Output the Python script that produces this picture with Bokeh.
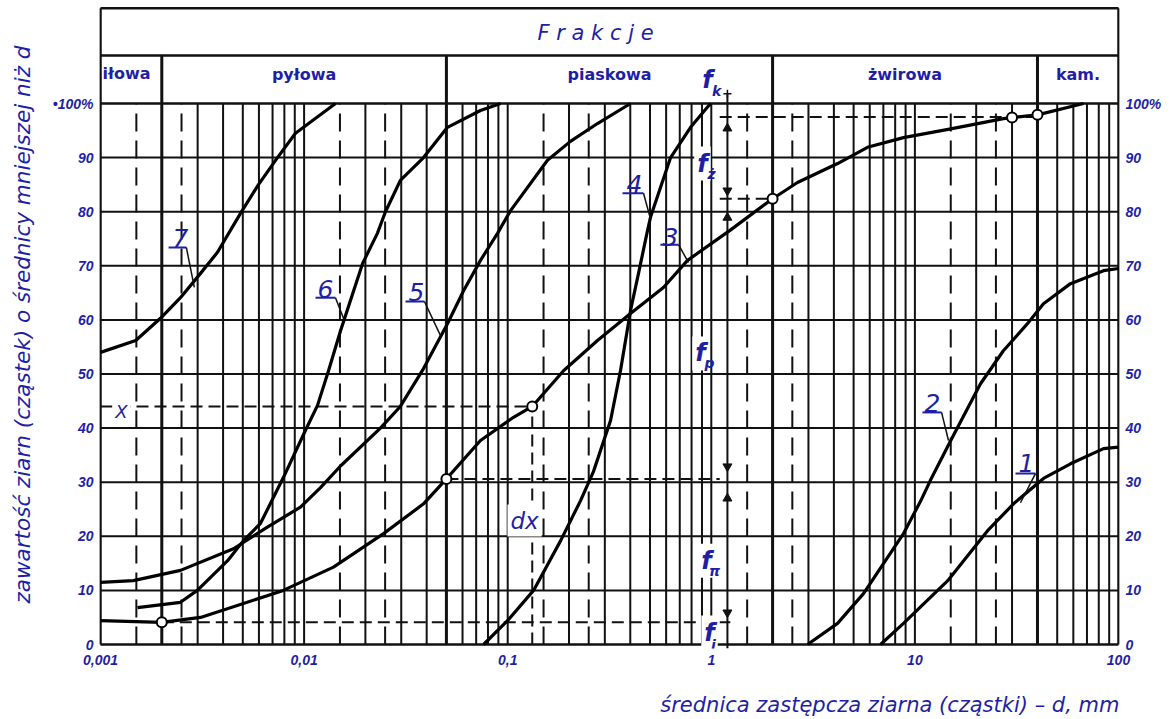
import math
from bokeh.plotting import figure
from bokeh.models import Range1d, FixedTicker, LinearAxis, Label
from bokeh.embed import file_html
from bokeh.resources import INLINE

# ---------------- data ----------------
curve1_d = [6.78, 8.79, 14.5, 22.7, 30.5, 42.8, 58.1, 84.4, 100]
curve1_p = [0, 3.9, 11.8, 21, 26, 30.7, 33.4, 36.2, 36.5]

curve2_d = [2.97, 4.17, 5.59, 7.02, 8.79, 10.7, 11.9, 15.0, 21.0, 27.2, 35.7, 42.8, 58.1, 84.4, 100]
curve2_p = [0, 3.9, 9.4, 15, 20.5, 26.6, 30.3, 37.7, 48.2, 54.3, 59.3, 63, 66.7, 69.1, 69.5]

curve3_d = [0.001, 0.002, 0.0031, 0.0079, 0.01394, 0.02455, 0.0386, 0.05, 0.0735, 0.1068, 0.132,
            0.188, 0.276, 0.401, 0.582, 0.764, 1.24, 1.51, 2.0, 2.65, 4.17, 5.85, 8.79, 15.0, 27.2,
            30, 40, 67.3]
curve3_p = [4.4, 4.1, 5, 10, 14.3, 20.5, 26, 30.6, 37.7, 42, 44,
            50.6, 56.2, 61.2, 66, 71, 76.6, 79.0, 82.4, 85.4, 88.9, 91.9, 93.7, 95.3, 97.2,
            97.4, 97.9, 100]

curve4_d = [0.0761, 0.0998, 0.134, 0.182, 0.228, 0.264, 0.320, 0.358, 0.401, 0.439, 0.486, 0.503,
            0.631, 0.791, 0.991]
curve4_p = [0, 4.4, 10, 19.2, 26.6, 32, 41.4, 50.6, 61.7, 68.6, 76.5, 79, 90, 95.6, 100]

curve5_d = [0.001, 0.00145, 0.00247, 0.0045, 0.0066, 0.0096, 0.01204, 0.0151, 0.0237, 0.0297,
            0.0386, 0.0506, 0.0607, 0.0735, 0.0891, 0.1033, 0.1568, 0.2033, 0.276, 0.401]
curve5_p = [11.5, 11.8, 13.7, 17.7, 21.7, 25.4, 29, 33, 40, 44,
            51, 59.3, 65.4, 71, 76, 80.2, 89.5, 93, 96.3, 100]

curve6_d = [0.00152, 0.00247, 0.00299, 0.00421, 0.00504, 0.00611, 0.00792, 0.01016, 0.01164,
            0.01318, 0.0151, 0.01936, 0.0229, 0.0251, 0.0297, 0.0386, 0.0506, 0.0735, 0.0922]
curve6_p = [6.8, 7.8, 10, 15.5, 19.2, 22.4, 30.9, 39.6, 44.2,
            50.6, 58, 70.4, 76, 80, 85.8, 90, 95.6, 98.7, 100]

curve7_d = [0.001, 0.00149, 0.00197, 0.00247, 0.0031, 0.003755, 0.00487, 0.00597, 0.0074, 0.00907, 0.01426]
curve7_p = [54, 56.2, 60.3, 64.1, 68.6, 72.5, 79.7, 85, 90, 94.5, 100]

# marked points on curve 3
marked_d = [0.002, 0.05, 0.132, 2.0, 30, 40]
marked_p = [4.1, 30.6, 44, 82.4, 97.4, 97.9]

# fractions
fraction_bounds = [0.002, 0.05, 2, 40]
fraction_names = ["iłowa", "pyłowa", "piaskowa", "żwirowa", "kam."]

x_ticks = [0.001, 0.01, 0.1, 1, 10, 100]
x_tick_labels = ["0,001", "0,01", "0,1", "1", "10", "100"]
y_ticks = [0, 10, 20, 30, 40, 50, 60, 70, 80, 90, 100]
y_tick_labels_left = ["0", "10", "20", "30", "40", "50", "60", "70", "80", "90", "•100%"]
y_tick_labels_right = ["0", "10", "20", "30", "40", "50", "60", "70", "80", "90", "100%"]

x_title = "średnica zastępcza ziarna (cząstki) – d, mm"
y_title = "zawartość ziarn (cząstek) o średnicy mniejszej niż d"

# ---------------- styles ----------------
BLUE = "#1f1fa5"
INK = "#111111"

PX_DEC = 203.6
PX_PCT = 5.41
X0 = 0.001 * 10 ** (-1 / PX_DEC)
X1 = 100 * 10 ** (1 / PX_DEC)
Y1 = 644 / PX_PCT
Y0 = Y1 - 648 / PX_PCT
HEAD_MID = 108.87
HEAD_TOP = 117.6

p = figure(width=1170, height=719, x_axis_type="log",
           x_range=Range1d(X0, X1), y_range=Range1d(Y0, Y1),
           output_backend="svg", toolbar_location=None, title=None,
           min_border_left=99, min_border_right=51, min_border_top=0, min_border_bottom=71)
p.outline_line_color = None
p.xgrid.visible = False
p.ygrid.visible = False
p.background_fill_color = "white"

def style_axis(ax, standoff):
    ax.axis_line_color = None
    ax.major_tick_line_color = None
    ax.minor_tick_line_color = None
    ax.major_label_text_font = "Liberation Sans"
    ax.major_label_text_font_style = "bold italic"
    ax.major_label_text_font_size = "14px"
    ax.major_label_text_color = BLUE
    ax.major_label_standoff = standoff

xax = p.xaxis[0]
style_axis(xax, 0)
xax.ticker = FixedTicker(ticks=x_ticks)
xax.major_label_overrides = {t: s for t, s in zip(x_ticks, x_tick_labels)}
# title sits at the right end of the axis: pad it on the left with no-break spaces
xax.axis_label = "\u00a0" * 84 + x_title
xax.axis_label_text_font = "DejaVu Sans"
xax.axis_label_text_font_style = "italic"
xax.axis_label_text_font_size = "21px"
xax.axis_label_text_color = BLUE
xax.axis_label_standoff = 25

yax = p.yaxis[0]
style_axis(yax, 0)
yax.ticker = FixedTicker(ticks=y_ticks)
yax.major_label_overrides = {t: s for t, s in zip(y_ticks, y_tick_labels_left)}
yax.axis_label = y_title
yax.axis_label_text_font = "DejaVu Sans"
yax.axis_label_text_font_style = "italic"
yax.axis_label_text_font_size = "21.5px"
yax.axis_label_text_color = BLUE
yax.axis_label_standoff = 15

right = LinearAxis(ticker=FixedTicker(ticks=y_ticks),
                   major_label_overrides={t: s for t, s in zip(y_ticks, y_tick_labels_right)})
style_axis(right, 0)
p.add_layout(right, "right")

# ---------------- grid ----------------
decades = [0.001, 0.01, 0.1, 1, 10]
def is_bound(v):
    return any(math.isclose(v, b, rel_tol=1e-9) for b in fraction_bounds)

solid_x = [m * d for d in decades for m in range(1, 10)
           if not (m == 1 and d == 0.001) and not is_bound(m * d)]
dashed_x = [f * d for d in decades for f in (1.5, 2.5)]

p.segment(x0=solid_x, y0=[0] * len(solid_x), x1=solid_x, y1=[100] * len(solid_x),
          line_color=INK, line_width=2)
p.segment(x0=dashed_x, y0=[0] * len(dashed_x), x1=dashed_x, y1=[100] * len(dashed_x),
          line_color=INK, line_width=2, line_dash="18 9")
hy = y_ticks[1:-1]
p.segment(x0=[x_ticks[0]] * len(hy), y0=hy, x1=[x_ticks[-1]] * len(hy), y1=hy,
          line_color=INK, line_width=2)

# frame and header
p.segment(x0=[x_ticks[0], x_ticks[-1]], y0=[0, 0], x1=[x_ticks[0], x_ticks[-1]], y1=[HEAD_TOP, HEAD_TOP],
          line_color=INK, line_width=2.5)
p.segment(x0=[x_ticks[0]] * 4, y0=[0, 100, HEAD_MID, HEAD_TOP], x1=[x_ticks[-1]] * 4,
          y1=[0, 100, HEAD_MID, HEAD_TOP], line_color=INK, line_width=2.5)
p.segment(x0=fraction_bounds, y0=[0] * 4, x1=fraction_bounds, y1=[HEAD_MID] * 4,
          line_color=INK, line_width=3)

# reading lines
xd = 1.2  # dimension line position
p.segment(x0=[xd], y0=[Y0], x1=[xd], y1=[101.8], line_color=INK, line_width=2)
p.segment(x0=[1.1, 1.1, 0.05, 0.002], y0=[97.5, 82.4, 30.6, 4.1],
          x1=[40, 2.0, 1.1, 1.24], y1=[97.5, 82.4, 30.6, 4.1],
          line_color=INK, line_width=2, line_dash="12 6")
p.segment(x0=[0.001, 0.132], y0=[44, 0], x1=[0.132, 0.132], y1=[44, 44],
          line_color=INK, line_width=2, line_dash="12 6")

# arrows of the fraction dimension line
p.scatter(x=[xd] * 3, y=[95.4, 78.9, 27.0], marker="triangle", size=9,
          fill_color=INK, line_color=INK)
p.scatter(x=[xd] * 3, y=[83.9, 32.9, 5.9], marker="inverted_triangle", size=9,
          fill_color=INK, line_color=INK)
p.scatter(x=[xd], y=[101.8], marker="cross", size=8, line_color=INK, line_width=1.5)

# ---------------- curves ----------------
curves = [(curve1_d, curve1_p), (curve2_d, curve2_p), (curve3_d, curve3_p), (curve4_d, curve4_p),
          (curve5_d, curve5_p), (curve6_d, curve6_p), (curve7_d, curve7_p)]
for cd, cp in curves:
    p.line(cd, cp, line_color="black", line_width=3.2, line_join="round")

p.scatter(marked_d, marked_p, marker="circle", size=10, fill_color="white",
          line_color="black", line_width=2)

# ---------------- curve number labels ----------------
curve_labels = [
    ("1", 35.3, 33.5, 31.19, 39.1, 31.6, 39.1, 31.6, 33.0, 26.2),
    ("2", 12.19, 44.7, 10.89, 13.52, 42.9, 13.52, 42.9, 14.62, 37.7),
    ("3", 0.6307, 75.4, 0.5623, 0.6902, 73.9, 0.6902, 73.9, 0.7727, 70.6),
    ("4", 0.4198, 85.2, 0.3664, 0.4645, 83.4, 0.4645, 83.4, 0.5026, 78.7),
    ("5", 0.03565, 65.1, 0.03148, 0.03901, 63.4, 0.03901, 63.4, 0.04677, 57.1),
    ("6", 0.01274, 65.8, 0.01138, 0.01426, 64.1, 0.01426, 64.1, 0.01561, 60.3),
    ("7", 0.00247, 75.2, 0.00216, 0.00264, 73.4, 0.00264, 73.4, 0.00289, 66.0),
]
for t, tx, ty, u0, u1, uy, l0x, l0y, l1x, l1y in curve_labels:
    p.segment(x0=[u0], y0=[uy], x1=[u1], y1=[uy], line_color=BLUE, line_width=2)
    p.segment(x0=[l0x], y0=[l0y], x1=[l1x], y1=[l1y], line_color=INK, line_width=1.5)
    p.add_layout(Label(x=tx, y=ty, text=t, text_font="DejaVu Sans", text_font_style="italic",
                       text_font_size="25px", text_color=BLUE, text_align="center",
                       text_baseline="middle"))

# ---------------- other labels ----------------
def lab(x, y, t, size, style="italic", bg=None, align="center", font="DejaVu Sans"):
    kw = dict(x=x, y=y, text=t, text_font=font, text_font_style=style,
              text_font_size=size, text_color=BLUE, text_align=align, text_baseline="middle")
    if bg:
        kw.update(background_fill_color=bg, padding=3)
    p.add_layout(Label(**kw))

lab(0.27, 113.1, "F r a k c j e", "21px")
lab(0.001 * 10 ** (2 / PX_DEC), 105.5, fraction_names[0], "16px", style="bold", align="left")
edges = [x_ticks[0]] + fraction_bounds + [x_ticks[-1]]
for i in range(1, 5):
    c = math.sqrt(edges[i] * edges[i + 1])
    lab(c, 105.4, fraction_names[i], "16px", style="bold")

lab(0.001268, 43.1, "X", "18px", bg="white")
lab(0.121, 22.9, "dx", "23px", bg="white")

f_labels = [(0.958, 104.4, 1.061, 102.4, "k"), (0.905, 88.9, 1.002, 87.0, "ż"),
            (0.885, 53.8, 0.98, 52.1, "p"), (0.946, 15.5, 1.037, 13.6, "π"),
            (0.98, 2.2, 1.025, 0.0, "i")]
for fx, fy, sx, sy, s in f_labels:
    lab(fx, fy, "f", "24px", style="bold italic", bg="white")
    lab(sx, sy, s, "14px", style="bold italic")

open("out.html", "w").write(file_html(p, INLINE))
